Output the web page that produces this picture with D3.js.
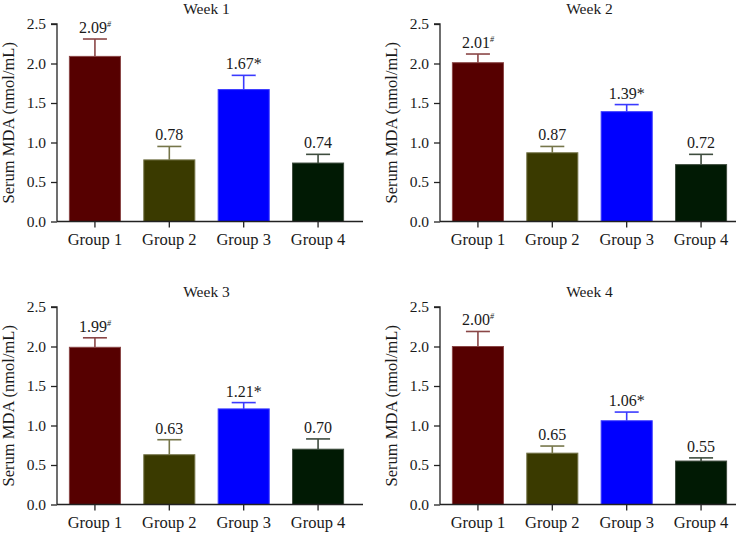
<!DOCTYPE html>
<html>
<head>
<meta charset="utf-8">
<script src="https://cdn.jsdelivr.net/npm/d3@7"></script>
<style>
  html, body { margin: 0; padding: 0; background: #fff; }
  svg { display: block; }
  svg text { font-family: "Liberation Serif", "Times New Roman", serif !important; fill: #1a1a1a; }
</style>
</head>
<body>
<svg id="chart" width="736" height="534" font-family="Liberation Serif, serif"></svg>
<script>
// ---- data ----
const weeks = ["Week 1", "Week 2", "Week 3", "Week 4"];
const groups = ["Group 1", "Group 2", "Group 3", "Group 4"];
const week1Values = [2.09, 0.78, 1.67, 0.74];
const week1Errors = [0.22, 0.17, 0.18, 0.11];
const week2Values = [2.01, 0.87, 1.39, 0.72];
const week2Errors = [0.11, 0.08, 0.09, 0.13];
const week3Values = [1.99, 0.63, 1.21, 0.70];
const week3Errors = [0.12, 0.19, 0.08, 0.13];
const week4Values = [2.00, 0.65, 1.06, 0.55];
const week4Errors = [0.19, 0.09, 0.11, 0.04];
const markers = ["#", "", "*", ""];
const yTicks = [0.0, 0.5, 1.0, 1.5, 2.0, 2.5];
const yLabel = "Serum MDA (nmol/mL)";

const values = [week1Values, week2Values, week3Values, week4Values];
const errors = [week1Errors, week2Errors, week3Errors, week4Errors];

// ---- styles ----
const fills = ["#560000", "#3a3a00", "#0000ff", "#011a04"];
const edges = ["#8a4646", "#76764a", "#3a3aff", "#3e4c3e"];
const axisColor = "#222";

const svg = d3.select("#chart");
const W = 736;

weeks.forEach((wk, p) => {
  const col = p % 2, row = Math.floor(p / 2);
  const ax = 57 + col * 383;
  const top = 24 + row * 283;
  const h = 197.5;
  const bandEnd = ax + 299;
  const lineEnd = Math.min(ax + 306, W);

  const g = svg.append("g");
  const x = d3.scaleBand().domain(groups).range([ax, bandEnd]).paddingInner(0.3).paddingOuter(0.16);
  const y = d3.scaleLinear().domain([0, 2.5]).range([top + h, top]);

  const data = groups.map((gr, i) => ({ gr, i, v: values[p][i], e: errors[p][i] }));

  // bars
  g.selectAll("rect.bar").data(data).join("rect")
    .attr("class", "bar")
    .attr("x", d => x(d.gr) + 0.5)
    .attr("width", x.bandwidth() - 1)
    .attr("y", d => y(d.v))
    .attr("height", d => y(0) - y(d.v))
    .attr("fill", d => fills[d.i])
    .attr("stroke", d => edges[d.i])
    .attr("stroke-width", 1);

  // error bars
  const capW = 24;
  g.selectAll("line.err").data(data).join("line")
    .attr("class", "err")
    .attr("x1", d => x(d.gr) + x.bandwidth() / 2)
    .attr("x2", d => x(d.gr) + x.bandwidth() / 2)
    .attr("y1", d => y(d.v))
    .attr("y2", d => y(d.v + d.e))
    .attr("stroke", d => edges[d.i])
    .attr("stroke-width", 1.6);
  g.selectAll("line.cap").data(data).join("line")
    .attr("class", "cap")
    .attr("x1", d => x(d.gr) + x.bandwidth() / 2 - capW / 2)
    .attr("x2", d => x(d.gr) + x.bandwidth() / 2 + capW / 2)
    .attr("y1", d => y(d.v + d.e))
    .attr("y2", d => y(d.v + d.e))
    .attr("stroke", d => edges[d.i])
    .attr("stroke-width", 1.6);

  // value labels
  const lab = g.selectAll("text.val").data(data).join("text")
    .attr("class", "val")
    .attr("x", d => x(d.gr) + x.bandwidth() / 2)
    .attr("y", d => y(d.v + d.e) - 6)
    .attr("text-anchor", "middle")
    .style("font-size", "16px");
  lab.append("tspan").text(d => d.v.toFixed(2));
  lab.filter(d => markers[d.i] === "#").append("tspan")
    .text("#").style("font-size", "8px").attr("dy", "-6").style("font-style", "italic");
  lab.filter(d => markers[d.i] === "*").append("tspan").text("*");

  // y axis
  const yAxis = d3.axisLeft(y).tickValues(yTicks).tickFormat(d3.format(".1f")).tickSize(6).tickPadding(5);
  const ya = g.append("g").attr("transform", `translate(${ax},0)`).call(yAxis)
    .attr("font-family", null).attr("font-size", null);
  ya.selectAll("text").style("font-size", "15.5px").attr("fill", "#1a1a1a");
  ya.selectAll("line, path").attr("stroke", axisColor).attr("stroke-width", 1.3);
  ya.select(".domain").attr("d", `M-6,${y(2.5)}H0V${y(0)}`);

  // x axis
  const xAxis = d3.axisBottom(x).tickSize(6).tickPadding(6);
  const xa = g.append("g").attr("transform", `translate(0,${y(0)})`).call(xAxis)
    .attr("font-family", null).attr("font-size", null);
  xa.select(".domain").attr("d", `M${ax},0H${lineEnd}`);
  xa.selectAll("line, path").attr("stroke", axisColor).attr("stroke-width", 1.3);
  xa.selectAll("text").style("font-size", "16.5px").attr("fill", "#1a1a1a");

  // title
  g.append("text")
    .attr("x", (ax + bandEnd) / 2)
    .attr("y", top - 10)
    .attr("text-anchor", "middle")
    .style("font-size", "15.5px")
    .text(wk);

  // y label
  g.append("text")
    .attr("transform", `translate(${ax - 43},${top + h / 2}) rotate(-90)`)
    .attr("text-anchor", "middle")
    .style("font-size", "16.5px")
    .text(yLabel);
});
</script>
</body>
</html>
